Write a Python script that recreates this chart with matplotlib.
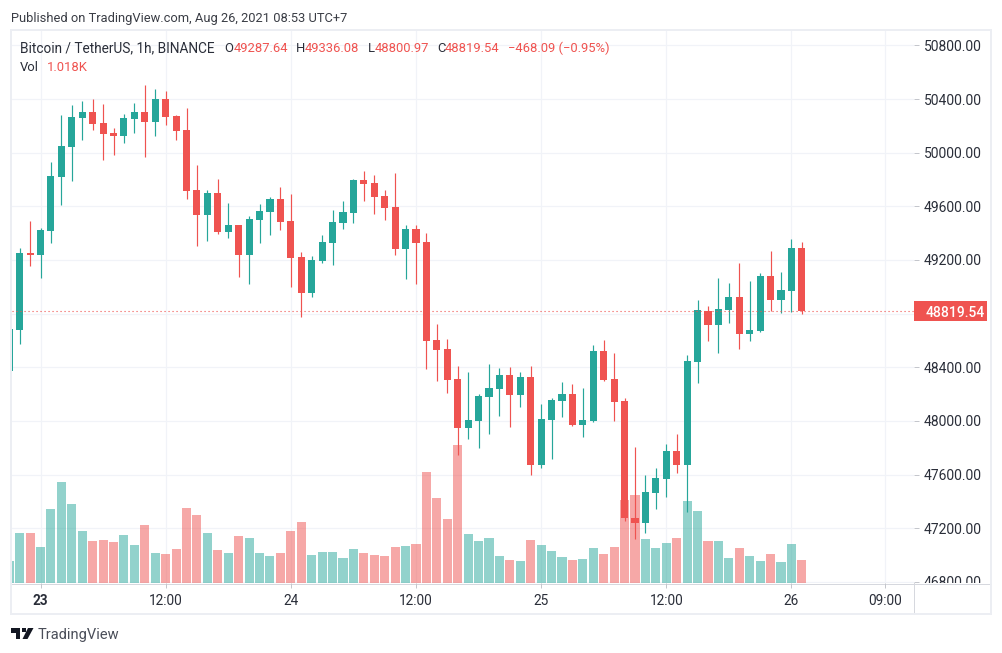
import matplotlib
matplotlib.use("Agg")
import matplotlib.pyplot as plt
from matplotlib.patches import Rectangle, Polygon
from matplotlib.lines import Line2D

plt.rcParams['font.family'] = ['Roboto', 'DejaVu Sans']

hours = list(range(-3, 74))
opens = [48372,48678,49252,49237,49416,49819,50042,50258,50303,50221,50147,50124,50251,50303,50229,50400,50273,50169,49722,49535,49699,49408,49461,49237,49498,49558,49655,49490,49222,48954,49192,49326,49476,49550,49796,49774,49677,49595,49282,49431,49334,48603,48536,48313,47947,47999,48178,48238,48342,48193,48327,47671,48007,48149,48201,47970,47999,48521,48313,48149,47276,47239,47463,47567,47776,47671,48439,48820,48715,48827,48924,48648,48670,49080,48902,48969,49287.64]
closes = [48685,49252,49237,49423,49826,50050,50266,50303,50214,50139,50124,50258,50303,50229,50400,50266,50161,49714,49535,49699,49408,49461,49237,49505,49565,49655,49483,49215,48954,49200,49334,49483,49558,49796,49766,49669,49587,49282,49431,49326,48596,48529,48305,47947,48007,48186,48245,48342,48193,48327,47671,48014,48156,48201,47970,48007,48521,48305,48141,47276,47239,47470,47574,47776,47671,48447,48827,48715,48834,48924,48648,48678,49080,48902,48976,49289,48819.54]
highs = [48685,49289,49490,49438,49930,50281,50355,50385,50400,50363,50184,50288,50370,50504,50475,50460,50281,50333,49908,49722,49804,49625,49461,49528,49617,49669,49744,49692,49259,49230,49386,49573,49640,49804,49863,49833,49722,49848,49461,49461,49401,48723,48611,48410,48365,48201,48424,48395,48402,48365,48410,48126,48171,48290,48275,48245,48566,48603,48506,48171,47806,47597,47649,47828,47903,48491,48902,48857,49066,49028,49177,49043,49103,49267,49110,49356,49336.08]
lows = [48372,48574,49155,49066,49326,49610,49789,50094,50169,49945,49983,50072,50147,49968,50124,50206,50094,49655,49304,49341,49394,49364,49073,49021,49326,49386,49423,48998,48775,48924,49177,49162,49431,49476,49640,49543,49498,49237,49058,49021,48387,48298,48208,47746,47865,47798,47903,48037,47955,48104,47597,47649,47716,48029,47962,47880,47992,48298,47999,47254,47120,47164,47343,47433,47612,47321,48283,48596,48506,48730,48536,48596,48663,48820,48805,48812,48800.97]
volumes = [974,2213,2213,1593,3275,4470,3497,2302,1859,1903,1815,2124,1682,2567,1328,1284,1505,3320,3010,2213,1461,1328,2080,1992,1328,1195,1328,2302,2700,1239,1372,1372,1107,1505,1328,1239,1195,1593,1638,1726,4913,3762,2833,6108,2169,1859,1992,1195,1018,974,1903,1682,1416,1151,1018,1062,1549,1284,1593,3674,3895,1947,1549,1770,1992,3629,3187,1859,1859,1107,1549,1195,974,1284,929,1726,1018]
price_ticks = [46800,47200,47600,48000,48400,48800,49200,49600,50000,50400,50800]
hidden_price_label = 48800
time_ticks = [0,12,24,36,48,60,72,81]
time_labels = ['23','12:00','24','12:00','25','12:00','26','09:00']

UP, DOWN = '#26a69a', '#ef5350'
W, H = 1002, 653
TXT = '#2a2e39'
GRID = '#f1f3f8'
FRAME = '#eceef3'
AXISC = '#d6d8de'

fig = plt.figure(figsize=(W/100, H/100), dpi=100, facecolor='white')

def axpx(l, t, r, b, **kw):
    return fig.add_axes([l/W, 1-b/H, (r-l)/W, (b-t)/H], **kw)

def fx(x): return x/W
def fy(y): return 1-y/H
def pxline(x0, y0, x1, y1, c, lw=0.72):
    fig.add_artist(Line2D([fx(x0), fx(x1)], [fy(y0), fy(y1)], color=c, lw=lw, transform=fig.transFigure, zorder=0))

L, T, R, B = 11.5, 31, 913.5, 583
xlim = ((L-40.5)/10.43, (R-40.5)/10.43)
ylim = (46792, 50907)

# grid + time axis
ax = axpx(L, T, R, B, zorder=1)
ax.set_xlim(xlim); ax.set_ylim(ylim)
ax.set_yticks(price_ticks)
ax.set_xticks(time_ticks)
ax.set_xticklabels(time_labels, fontsize=9.8, color=TXT)
ax.get_xticklabels()[0].set_fontweight('bold')
ax.tick_params(axis='x', length=3.6, width=0.72, color='#c4c6cc', pad=4.2)
ax.tick_params(axis='y', left=False, labelleft=False)
ax.grid(True, color=GRID, lw=0.85)
ax.set_axisbelow(True)
for s in ax.spines.values():
    s.set_visible(False)

# volume pane
axv = axpx(L, T, R, B, zorder=2)
axv.set_xlim(xlim); axv.set_ylim(0, 24431)
axv.axis('off')
colors = [UP if c >= o else DOWN for o, c in zip(opens, closes)]
axv.bar(hours, volumes, width=0.87, color=colors, alpha=0.5, linewidth=0)

# candles
axc = axpx(L, T, R, B, zorder=3)
axc.set_xlim(xlim); axc.set_ylim(ylim)
axc.axis('off')
axc.vlines(hours, lows, highs, colors=colors, lw=0.85)
axc.bar(hours, [abs(c-o) for o, c in zip(opens, closes)],
        bottom=[min(o, c) for o, c in zip(opens, closes)],
        width=0.68, color=colors, linewidth=0)
axc.axhline(closes[-1], color=DOWN, lw=0.8, ls=(0, (1, 2.6)))

# price scale
axp = axpx(R, T, 990.5, B, zorder=4)
axp.set_xlim(0, 1); axp.set_ylim(ylim)
axp.set_xticks([]); axp.set_yticks(price_ticks)
axp.tick_params(axis='y', direction='in', length=3.6, width=0.72, color='#c4c6cc', labelleft=False)
for s in axp.spines.values():
    s.set_visible(False)
for p in price_ticks:
    if p != hidden_price_label:
        axp.text(10.5/77, p, f'{p:.2f}', va='center_baseline', ha='left', fontsize=10, color=TXT, clip_on=True)
axp.add_patch(Rectangle((0, closes[-1]-71), 73.5/77, 142, transform=axp.get_yaxis_transform(), color=DOWN, lw=0, zorder=5))
axp.text(41.5/77, closes[-1], f'{closes[-1]:.2f}', va='center_baseline', ha='center', fontsize=10, color='white', fontweight='medium', zorder=6)

# frame + axis lines
fig.add_artist(Rectangle((fx(11), fy(613.5)), (991-11)/W, (613.5-30)/H, transform=fig.transFigure, fill=False, ec=FRAME, lw=1.4, zorder=6))
pxline(913.5, 30, 913.5, 613.5, AXISC)
pxline(11, 583.5, 991, 583.5, AXISC)

# header / legend
fig.text(fx(11), fy(17), 'Published on TradingView.com, Aug 26, 2021 08:53 UTC+7', fontsize=9.3, color='#3a3d45', va='center_baseline')
fig.text(fx(20), fy(47), 'Bitcoin / TetherUS, 1h, BINANCE', fontsize=9.85, color=TXT, va='center_baseline', zorder=10)
legend_parts = [('O', 224, TXT), ('49287.64', 234, DOWN), ('H', 296, TXT), ('49336.08', 305, DOWN), ('L', 367.5, TXT),
                ('48800.97', 375, DOWN), ('C', 437, TXT), ('48819.54', 445, DOWN), ('\u2212468.09 (\u22120.95%)', 508, DOWN)]
for s, x, c in legend_parts:
    fig.text(fx(x), fy(47), s, fontsize=9.4, color=c, va='center_baseline', zorder=10)
fig.text(fx(20), fy(66), 'Vol', fontsize=9.4, color=TXT, va='center_baseline', zorder=10)
fig.text(fx(47), fy(66), '1.018K', fontsize=9.4, color=DOWN, va='center_baseline', zorder=10)

# footer logo
LOGO = '#131722'
def P(pts):
    return [(fx(x), fy(y)) for x, y in pts]
fig.add_artist(Polygon(P([(11, 628), (20, 628), (20, 639), (15.5, 639), (15.5, 632.5), (11, 632.5)]), closed=True, color=LOGO, lw=0, transform=fig.transFigure))
fig.add_artist(Polygon(P([(28, 628), (33.5, 628), (27.5, 639), (22.5, 639)]), closed=True, color=LOGO, lw=0, transform=fig.transFigure))
fig.add_artist(Polygon(P([(21.5, 628.3), (25.5, 628.3), (25.5, 632.3), (21.5, 632.3)]), closed=True, color=LOGO, lw=0, transform=fig.transFigure))
fig.text(fx(38), fy(633.5), 'TradingView', fontsize=10.5, color='#4a4e59', va='center_baseline')

fig.savefig('out.png', dpi=100, facecolor='white')
